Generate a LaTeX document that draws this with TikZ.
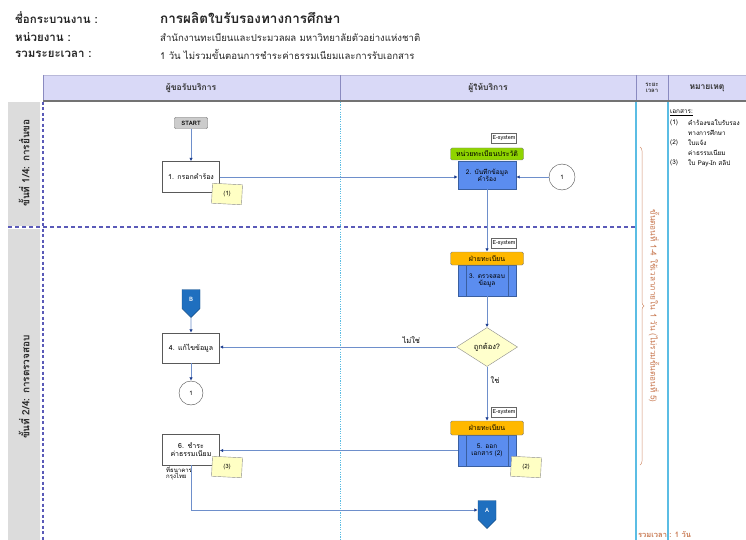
\documentclass[tikz,border=0pt]{standalone}
\usepackage{fontspec}
\setmainfont[Script=Thai]{Loma}
\usetikzlibrary{shapes.geometric,shapes.symbols,arrows.meta,decorations.pathreplacing}
\definecolor{hdrfill}{HTML}{D9D9F7}
\definecolor{hdrline}{HTML}{8A8AC0}
\definecolor{lanegrey}{HTML}{DCDCDC}
\definecolor{dashblue}{HTML}{5A5AB8}
\definecolor{cyanline}{HTML}{5BBDE4}
\definecolor{linkblue}{HTML}{6E8FCB}
\definecolor{tipblue}{HTML}{1F3F8F}
\definecolor{procblue}{HTML}{5B8DEF}
\definecolor{procedge}{HTML}{3A5FA0}
\definecolor{lblgreen}{HTML}{8FD400}
\definecolor{lblorange}{HTML}{FFB800}
\definecolor{noteyellow}{HTML}{FFFFC4}
\definecolor{decyellow}{HTML}{FFFFCC}
\definecolor{timebrown}{HTML}{C87850}
\definecolor{offblue}{HTML}{1F6FBF}
\newcommand\nf{\fontsize{7}{7.6}\selectfont}
\newcommand\smf{\fontsize{6}{6.6}\selectfont}
\newcommand\rf{\fontsize{6.4}{6.8}\selectfont}
\begin{document}
\begin{tikzpicture}[x=1pt,y=-1pt,
  conn/.style={draw=linkblue, line width=0.8pt, -{Latex[length=3.5pt,width=3.5pt,color=tipblue]}},
  proc/.style={draw=black!65, fill=white, minimum width=57, minimum height=31, text width=55, align=center, font=\nf, inner sep=1pt},
  bproc/.style={draw=procedge, fill=procblue, minimum width=58, minimum height=30, text width=56, align=center, font=\fontsize{6.5}{7.2}\selectfont, inner sep=1pt},
  lblbox/.style={draw=black!50, rounded corners=1.5pt, minimum width=73, minimum height=12, font=\nf, inner sep=0pt},
  tagbox/.style={draw=black!60, fill=white, minimum width=25, minimum height=10, font=\fontsize{5.5}{6}\selectfont, inner sep=0pt},
  notebox/.style={draw=black!45, fill=noteyellow, minimum width=30, minimum height=20, font=\smf, inner sep=0pt, rotate=-3},
  conncirc/.style={circle, draw=black!70, fill=white, font=\smf, inner sep=0pt},
  offpage/.style={signal, signal to=south, signal from=nowhere, fill=offblue, draw=offblue!70!black, text=white, font=\bfseries\smf, minimum width=18, minimum height=22, inner sep=1pt},
  colhead/.style={font=\bfseries\fontsize{8.5}{9}\selectfont, text=black!80},
  lanelabel/.style={font=\bfseries\fontsize{10}{11}\selectfont, rotate=90, text=black!85},
  remark/.style={anchor=west, font=\rf, inner sep=0pt},
  hlabel/.style={anchor=west, font=\bfseries\fontsize{11.5}{12}\selectfont, inner sep=0, text=black!85},
  hvalue/.style={anchor=west, font=\fontsize{9.6}{11}\selectfont, inner sep=0, text=black!85}
]
\useasboundingbox (0,0) rectangle (746,540);
\fill[white] (0,0) rectangle (746,540);

% ---------- header ----------
\node[hlabel] (h1) at (15,18) {ชื่อกระบวนงาน :};
\node[hlabel] (h2) at (15,37) {หน่วยงาน :};
\node[hlabel] (h3) at (15,54) {รวมระยะเวลา :};
\node[anchor=west, font=\bfseries\fontsize{13.5}{15}\selectfont, inner sep=0, text=black!85] (v1) at (160,18) {การผลิตใบรับรองทางการศึกษา};
\node[hvalue] (v2) at (160,37) {สำนักงานทะเบียนและประมวลผล มหาวิทยาลัยตัวอย่างแห่งชาติ};
\node[hvalue] (v3) at (160,54) {1 วัน ไม่รวมขั้นตอนการชำระค่าธรรมเนียมและการรับเอกสาร};

% ---------- column header band ----------
\fill[hdrfill] (43,75) rectangle (746,101);
\draw[hdrline!60, line width=0.4pt] (43,75) -- (746,75);
\draw[hdrline] (43,75) -- (43,101);
\draw[hdrline] (340,75) -- (340,101);
\draw[hdrline] (636,75) -- (636,101);
\draw[hdrline] (668,75) -- (668,101);
\draw[black!55, line width=1.4pt] (43,101) -- (746,101);
\node[colhead] (ch1) at (191,88) {ผู้ขอรับบริการ};
\node[colhead] (ch2) at (488,88) {ผู้ให้บริการ};
\node[colhead, font=\bfseries\fontsize{6}{6.5}\selectfont, align=center, inner sep=0pt] (ch3) at (652,88) {ระยะ\\เวลา};
\node[colhead] (ch4) at (707,88) {หมายเหตุ};

% ---------- lanes ----------
\fill[lanegrey] (8,102) rectangle (40,226);
\fill[lanegrey] (8,229) rectangle (40,540);
\node[lanelabel] (lane1) at (24,163) {ขั้นที่ 1/4: การยื่นขอ};
\node[lanelabel] (lane2) at (24,387) {ขั้นที่ 2/4: การตรวจสอบ};
\draw[dashblue, line width=1.1pt, dash pattern=on 3pt off 2.5pt] (43,102) -- (43,540);
\draw[dashblue, line width=1.1pt, dash pattern=on 4pt off 3pt] (8,227) -- (636,227);
\draw[cyanline, line width=0.6pt, dash pattern=on 1.2pt off 1.2pt] (340,102) -- (340,540);
\draw[cyanline, line width=2.6pt] (636,102) -- (636,540);
\draw[cyanline, line width=2.6pt] (668,102) -- (668,540);

% ---------- lane 1 ----------
\node[draw=black!60, fill=black!20, rounded corners=1pt, font=\bfseries\smf, minimum width=33, minimum height=11, inner sep=0pt] (start) at (191,123) {START};
\node[proc] (n1) at (191,177) {1. กรอกคำร้อง};
\node[notebox] (note1) at (227,194) {(1)};
\node[bproc, minimum height=28] (n2) at (487,175) {2. บันทึกข้อมูล\\คำร้อง};
\node[lblbox, fill=lblgreen] (n2l) at (487,154) {หน่วยทะเบียนประวัติ};
\node[tagbox] (n2t) at (504,138) {E-system};
\node[conncirc, minimum size=26] (c1) at (562,177) {1};

\draw[conn] (start) -- (n1);
\draw[conn] (n1.east) -- (n1.east -| n2.west);
\draw[conn] (c1) -- (c1 -| n2.east);

% ---------- lane 2 ----------
\node[bproc, minimum height=31] (n3) at (487,280.5) {3. ตรวจสอบ\\ข้อมูล};
\draw[procedge] ([xshift=8pt]n3.north west) -- ([xshift=8pt]n3.south west);
\draw[procedge] ([xshift=-8pt]n3.north east) -- ([xshift=-8pt]n3.south east);
\node[lblbox, fill=lblorange, minimum height=13] (n3l) at (487,258.5) {ฝ่ายทะเบียน};
\node[tagbox] (n3t) at (504,243.5) {E-system};
\draw[conn] (n2) -- (n3l);

\node[diamond, draw=black!45, fill=decyellow, aspect=1.56, minimum width=61, minimum height=39, inner sep=0pt, font=\fontsize{7.5}{8}\selectfont] (dec) at (487,347) {ถูกต้อง?};
\draw[conn] (n3) -- (dec);

\node[offpage] (B) at (191,299) {B};
\node[proc, minimum height=30] (n4) at (191,348) {4. แก้ไขข้อมูล};
\node[conncirc, minimum size=24] (c2) at (191,393) {1};
\draw[conn] (B) -- (n4);
\draw[conn] (n4) -- (c2);
\draw[conn] (dec.west) -- node[pos=0.19, above, font=\fontsize{7.5}{8}\selectfont] (lno) {ไม่ใช่} (dec.west -| n4.east);

\node[bproc, minimum height=31] (n5) at (487,450.5) {5. ออก\\เอกสาร (2)};
\draw[procedge] ([xshift=8pt]n5.north west) -- ([xshift=8pt]n5.south west);
\draw[procedge] ([xshift=-8pt]n5.north east) -- ([xshift=-8pt]n5.south east);
\node[lblbox, fill=lblorange, minimum height=14] (n5l) at (487,428) {ฝ่ายทะเบียน};
\node[tagbox] (n5t) at (504,412.5) {E-system};
\node[notebox] (note2) at (526,467) {(2)};
\draw[conn] (dec) -- node[pos=0.24, right, font=\fontsize{7.5}{8}\selectfont] (lyes) {ใช่} (n5l);

\node[proc] (n6) at (191,449.5) {6. ชำระ\\ค่าธรรมเนียม};
\node[notebox] (note3) at (227,467) {(3)};
\node[anchor=north west, align=left, font=\smf, inner sep=0pt] (bank) at (166,466) {ที่ธนาคาร\\กรุงไทย};
\draw[conn] (n5.west) -- (n5.west -| n6.east);

\node[offpage] (A) at (487,510) {A};
\draw[conn] (n6.south) |- (A.west);

% ---------- time column ----------
\coordinate (brtop) at (640,147);
\coordinate (brbot) at (640,465);
\draw[timebrown!80, line width=0.5pt, decorate, decoration={brace, amplitude=4pt}] (brtop) -- (brbot);
\node[rotate=-90, text=timebrown, font=\fontsize{8.2}{9}\selectfont] (tnote) at (654,306) {ขั้นตอนที่ 1-4 ใช้เวลาภายใน 1 วัน (ไม่รวมขั้นตอนที่ 5)};
\node[anchor=west, text=timebrown, font=\bfseries\fontsize{7.5}{8}\selectfont, inner sep=0pt] (ttotal) at (638,534) {รวมเวลา : 1 วัน};

% ---------- remarks ----------
\node[remark] (r0) at (670,113) {\underline{เอกสาร:}};
\node[remark] (r1a) at (670,123) {(1)};
\node[remark] (r1b) at (688,123) {คำร้องขอใบรับรอง};
\node[remark] (r1c) at (688,133) {ทางการศึกษา};
\node[remark] (r2a) at (670,143) {(2)};
\node[remark] (r2b) at (688,143) {ใบแจ้ง};
\node[remark] (r2c) at (688,153) {ค่าธรรมเนียม};
\node[remark] (r3a) at (670,163) {(3)};
\node[remark] (r3b) at (688,163) {ใบ Pay-In สลิป};
\end{tikzpicture}
\end{document}
